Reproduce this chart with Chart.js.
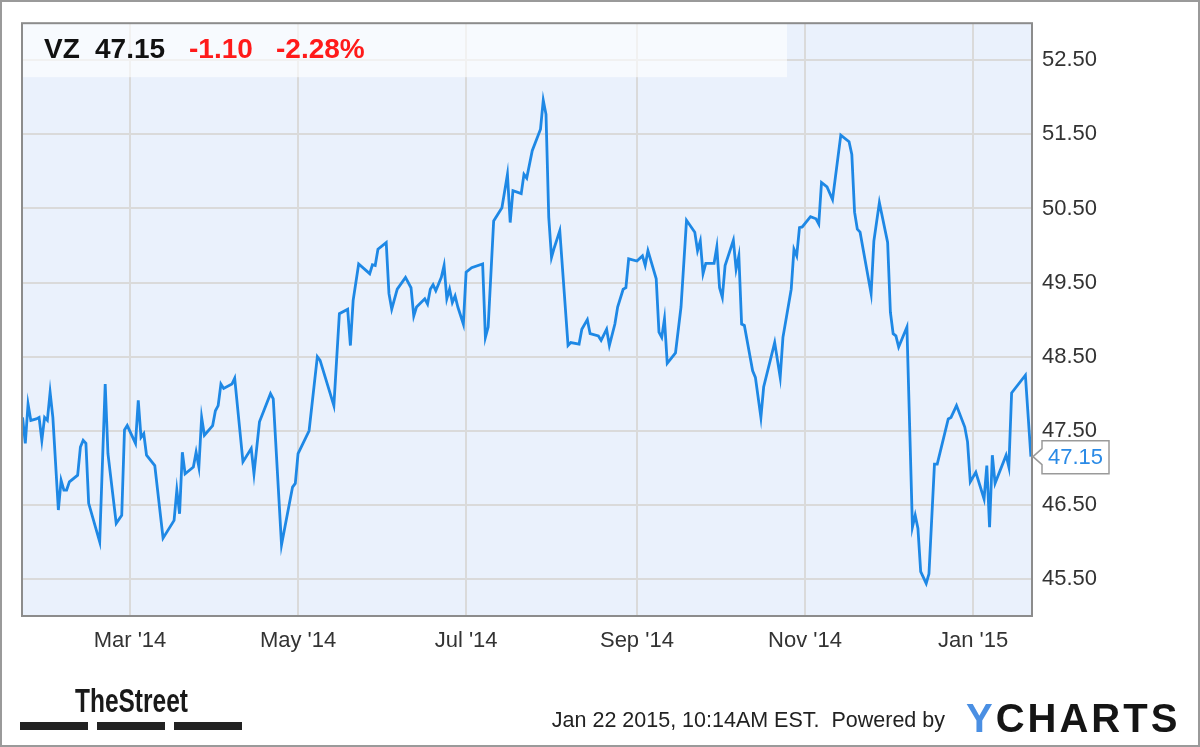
<!DOCTYPE html>
<html><head><meta charset="utf-8">
<script src="https://cdn.jsdelivr.net/npm/chart.js@4.4.1/dist/chart.umd.min.js"></script>
<style>html,body{margin:0;padding:0;background:#fff;overflow:hidden}</style>
</head><body>
<canvas id="c" width="1200" height="747"></canvas>
<script>
const tradeDates = [
'2014-01-21','2014-01-22','2014-01-23','2014-01-24','2014-01-26','2014-01-27','2014-01-28','2014-01-29','2014-01-30','2014-01-31',
'2014-02-01','2014-02-03','2014-02-04','2014-02-05','2014-02-06','2014-02-07','2014-02-10','2014-02-11','2014-02-12','2014-02-13',
'2014-02-14','2014-02-18','2014-02-20','2014-02-21','2014-02-24','2014-02-26','2014-02-27','2014-02-28','2014-03-03','2014-03-04',
'2014-03-05','2014-03-06','2014-03-07','2014-03-10','2014-03-13','2014-03-17','2014-03-18','2014-03-19','2014-03-20','2014-03-21',
'2014-03-24','2014-03-25','2014-03-26','2014-03-27','2014-03-28','2014-03-31','2014-04-01','2014-04-02','2014-04-03','2014-04-04',
'2014-04-07','2014-04-08','2014-04-11','2014-04-14','2014-04-15','2014-04-17','2014-04-21','2014-04-22','2014-04-25','2014-04-29',
'2014-04-30','2014-05-01','2014-05-05','2014-05-08','2014-05-09','2014-05-14','2014-05-16','2014-05-19','2014-05-20','2014-05-21',
'2014-05-23','2014-05-27','2014-05-28','2014-05-29','2014-05-30','2014-06-02','2014-06-03','2014-06-04','2014-06-06','2014-06-09',
'2014-06-11','2014-06-12','2014-06-13','2014-06-16','2014-06-17','2014-06-18','2014-06-19','2014-06-20','2014-06-22','2014-06-23',
'2014-06-24','2014-06-25','2014-06-26','2014-06-27','2014-06-28','2014-06-30','2014-07-01','2014-07-03','2014-07-07','2014-07-08',
'2014-07-09','2014-07-11','2014-07-14','2014-07-16','2014-07-17','2014-07-18','2014-07-21','2014-07-22','2014-07-23','2014-07-25',
'2014-07-28','2014-07-29','2014-07-30','2014-07-31','2014-08-01','2014-08-02','2014-08-04','2014-08-07','2014-08-08','2014-08-11',
'2014-08-12','2014-08-14','2014-08-15','2014-08-18','2014-08-19','2014-08-21','2014-08-22','2014-08-24','2014-08-25','2014-08-27',
'2014-08-28','2014-08-29','2014-09-01','2014-09-03','2014-09-04','2014-09-05','2014-09-08','2014-09-09','2014-09-10','2014-09-11',
'2014-09-12','2014-09-15','2014-09-17','2014-09-19','2014-09-22','2014-09-23','2014-09-24','2014-09-25','2014-09-26','2014-09-29',
'2014-09-30','2014-10-01','2014-10-02','2014-10-03','2014-10-06','2014-10-07','2014-10-08','2014-10-09','2014-10-10','2014-10-13',
'2014-10-14','2014-10-16','2014-10-17','2014-10-21','2014-10-23','2014-10-24','2014-10-27','2014-10-28','2014-10-29','2014-10-30',
'2014-10-31','2014-11-03','2014-11-05','2014-11-06','2014-11-07','2014-11-09','2014-11-11','2014-11-14','2014-11-17','2014-11-18',
'2014-11-19','2014-11-20','2014-11-21','2014-11-25','2014-11-26','2014-11-28','2014-12-01','2014-12-02','2014-12-03','2014-12-04',
'2014-12-05','2014-12-08','2014-12-10','2014-12-11','2014-12-12','2014-12-13','2014-12-15','2014-12-16','2014-12-18','2014-12-19',
'2014-12-23','2014-12-24','2014-12-26','2014-12-29','2014-12-30','2014-12-31','2015-01-02','2015-01-05','2015-01-06','2015-01-07',
'2015-01-08','2015-01-09','2015-01-13','2015-01-14','2015-01-15','2015-01-20','2015-01-22'
];
const closePrices = [
47.68,47.33,47.86,47.64,47.66,47.68,47.37,47.68,47.64,48.02,
47.68,46.43,46.83,46.70,46.70,46.81,46.90,47.28,47.37,47.33,
46.52,46.00,48.13,47.19,46.25,46.36,47.51,47.57,47.33,47.91,
47.41,47.46,47.17,47.03,46.05,46.29,46.70,46.38,47.21,46.92,
47.01,47.21,47.01,47.68,47.44,47.57,47.77,47.84,48.13,48.07,
48.13,48.21,47.08,47.26,46.92,47.62,48.00,47.93,45.96,46.74,
46.79,47.19,47.50,48.50,48.45,47.84,49.08,49.14,48.65,49.26,
49.75,49.62,49.74,49.73,49.95,50.04,49.35,49.14,49.41,49.57,
49.43,49.05,49.17,49.28,49.21,49.41,49.47,49.39,49.57,49.73,
49.28,49.41,49.23,49.32,49.17,48.94,49.64,49.70,49.75,48.76,
48.90,50.33,50.51,50.96,50.31,50.74,50.70,50.96,50.91,51.28,
51.57,51.96,51.77,50.38,49.84,49.97,50.20,48.65,48.69,48.67,
48.87,49.00,48.81,48.78,48.72,48.87,48.65,48.94,49.17,49.41,
49.43,49.82,49.79,49.86,49.73,49.93,49.55,48.83,48.76,49.01,
48.41,48.55,49.17,50.34,50.18,49.93,50.06,49.62,49.76,49.76,
49.98,49.43,49.30,49.73,50.07,49.68,49.86,48.94,48.92,48.31,
48.22,47.68,48.09,48.69,48.22,48.76,49.41,49.95,49.86,50.24,
50.25,50.39,50.36,50.29,50.85,50.79,50.62,51.49,51.40,51.23,
50.45,50.22,50.18,49.35,50.06,50.58,50.04,49.10,48.81,48.78,
48.63,48.90,46.20,46.36,46.18,45.60,45.44,45.57,47.05,47.05,
47.66,47.68,47.84,47.55,47.35,46.81,46.94,46.58,47.03,46.20,
47.17,46.79,47.17,47.01,48.01,48.25,47.15
];
const xTickDates = ['2014-03-01','2014-05-01','2014-07-01','2014-09-01','2014-11-01','2015-01-01'];
const xTickLabels = ["Mar '14","May '14","Jul '14","Sep '14","Nov '14","Jan '15"];
const yTickValues = [45.5,46.5,47.5,48.5,49.5,50.5,51.5,52.5];
const tickerSymbol = 'VZ';
const lastPrice = 47.15;
const priceChange = -1.10;
const pctChange = -2.28;
const stampText = 'Jan 22 2015, 10:14AM EST.  Powered by';

const BASE = Date.UTC(2014,0,22);
const dayNum = s => (Date.parse(s + 'T00:00:00Z') - BASE) / 864e5;
const points = tradeDates.map((d,i) => ({x: dayNum(d), y: closePrices[i]}));
const xTickNums = xTickDates.map(dayNum);

const FONT = '"Liberation Sans", Arial, sans-serif';

const decor = {
  id: 'decor',
  beforeDraw(chart) {
    const {ctx, chartArea: a} = chart;
    ctx.save();
    ctx.fillStyle = '#ffffff';
    ctx.fillRect(0, 0, chart.width, chart.height);
    ctx.fillStyle = '#eaf1fc';
    ctx.fillRect(a.left, a.top, a.right - a.left, a.bottom - a.top);
    ctx.restore();
  },
  afterDraw(chart) {
    const {ctx, chartArea: a} = chart;
    const ys = chart.scales.y;
    ctx.save();
    // header overlay
    ctx.fillStyle = 'rgba(255,255,255,0.62)';
    ctx.fillRect(a.left, a.top, 765, 54);
    ctx.textBaseline = 'middle';
    ctx.textAlign = 'left';
    ctx.font = 'bold 28px ' + FONT;
    ctx.fillStyle = '#111';
    ctx.fillText(tickerSymbol, 44, 50);
    ctx.fillText(lastPrice.toFixed(2), 95, 50);
    ctx.fillStyle = '#ff1a1a';
    ctx.fillText(priceChange.toFixed(2), 189, 50);
    ctx.fillText(pctChange.toFixed(2) + '%', 276, 50);
    // plot border
    ctx.strokeStyle = '#8c8c8c';
    ctx.lineWidth = 2;
    ctx.strokeRect(a.left, a.top, a.right - a.left, a.bottom - a.top);
    // last value tag
    const ly = ys.getPixelForValue(lastPrice);
    ctx.beginPath();
    ctx.moveTo(a.right + 1, ly);
    ctx.lineTo(a.right + 10, ly - 8);
    ctx.lineTo(a.right + 10, ly - 16);
    ctx.lineTo(1109, ly - 16);
    ctx.lineTo(1109, ly + 17);
    ctx.lineTo(a.right + 10, ly + 17);
    ctx.lineTo(a.right + 10, ly + 8);
    ctx.closePath();
    ctx.fillStyle = '#ffffff';
    ctx.fill();
    ctx.strokeStyle = '#9a9a9a';
    ctx.lineWidth = 1.5;
    ctx.stroke();
    ctx.font = '22px ' + FONT;
    ctx.fillStyle = '#2a8ae6';
    ctx.fillText(lastPrice.toFixed(2), 1048, ly + 1);
    // footer stamp
    ctx.font = '21.5px ' + FONT;
    ctx.fillStyle = '#222';
    ctx.textAlign = 'right';
    ctx.textBaseline = 'alphabetic';
    ctx.fillText(stampText, 945, 727);
    // YCHARTS logo
    ctx.textAlign = 'left';
    ctx.font = 'bold 40px ' + FONT;
    try { ctx.letterSpacing = '3px'; } catch(e) {}
    ctx.fillStyle = '#4a8fe3';
    ctx.fillText('Y', 966, 732);
    const yw = ctx.measureText('Y').width;
    ctx.fillStyle = '#151515';
    ctx.fillText('CHARTS', 966 + yw, 732);
    try { ctx.letterSpacing = '0px'; } catch(e) {}
    // TheStreet logo
    ctx.save();
    ctx.translate(75, 712);
    ctx.scale(0.72, 1);
    ctx.font = 'bold 34px ' + FONT;
    ctx.fillStyle = '#1a1a1a';
    ctx.fillText('TheStreet', 0, 0);
    ctx.restore();
    ctx.fillStyle = '#222';
    ctx.fillRect(20, 722, 68, 8);
    ctx.fillRect(97, 722, 68, 8);
    ctx.fillRect(174, 722, 68, 8);
    // outer frame
    ctx.strokeStyle = '#9a9a9a';
    ctx.lineWidth = 2;
    ctx.strokeRect(1, 1, chart.width - 2, chart.height - 2);
    ctx.restore();
  }
};

new Chart(document.getElementById('c'), {
  type: 'line',
  data: {
    datasets: [{
      data: points,
      borderColor: '#1e88e5',
      borderWidth: 2.8,
      pointRadius: 0,
      tension: 0,
      fill: false
    }]
  },
  options: {
    responsive: false,
    animation: false,
    devicePixelRatio: 1,
    layout: {padding: {left: 22, top: 22, right: 0, bottom: 0}},
    plugins: {legend: {display: false}, tooltip: {enabled: false}},
    scales: {
      x: {
        type: 'linear',
        min: -1.2,
        max: 365.4,
        afterBuildTicks(s) { s.ticks = xTickNums.map(v => ({value: v})); },
        afterFit(s) { s.height = 131; },
        grid: {color: '#dadada', lineWidth: 2, drawTicks: false},
        border: {display: false},
        ticks: {
          padding: 12,
          autoSkip: false,
          maxRotation: 0,
          color: '#333',
          font: {family: FONT, size: 22},
          callback(v) { const i = xTickNums.indexOf(v); return i >= 0 ? xTickLabels[i] : ''; }
        }
      },
      y: {
        position: 'right',
        min: 45,
        max: 53,
        afterBuildTicks(s) { s.ticks = yTickValues.map(v => ({value: v})); },
        afterFit(s) { s.width = 168; },
        grid: {color: '#dadada', lineWidth: 2, drawTicks: false},
        border: {display: false},
        ticks: {
          padding: 10,
          color: '#333',
          font: {family: FONT, size: 22},
          callback(v) { return Number(v).toFixed(2); }
        }
      }
    }
  },
  plugins: [decor]
});
</script>
</body></html>
